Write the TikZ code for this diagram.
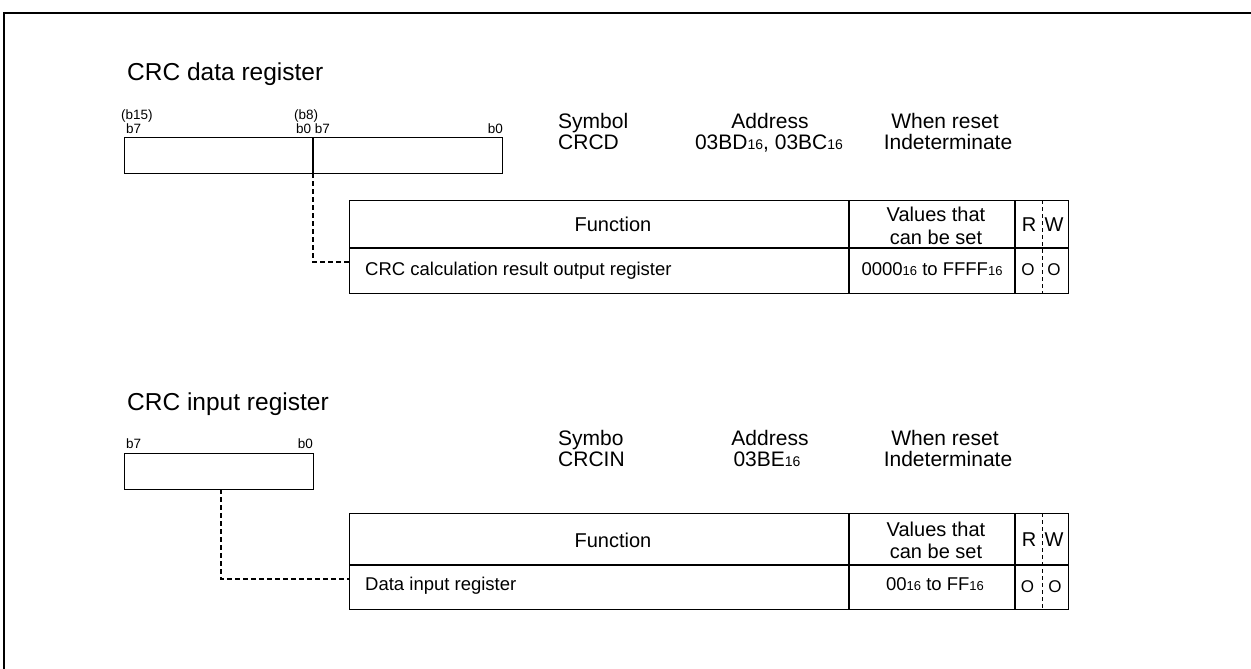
\documentclass[tikz,border=0pt]{standalone}
\usepackage{fontspec}
\setmainfont{Liberation Sans}
\newcommand\hsub[1]{{\fontsize{14}{14}\selectfont #1}}
\newcommand\tsub[1]{{\fontsize{13}{13}\selectfont #1}}
\tikzset{
  frame/.style={line width=2pt},
  regbox/.style={draw, line width=1.4pt, inner sep=0pt, anchor=north west},
  tblbox/.style={draw, line width=1.3pt, inner sep=0pt, anchor=north west},
  rule/.style={line width=1.3pt},
  rwsep/.style={line width=0.8pt, dash pattern=on 4pt off 3pt},
  conn/.style={line width=1.3pt, dash pattern=on 4.5pt off 3.5pt},
  title/.style={inner sep=0pt, font=\fontsize{24.5}{28}\selectfont},
  head/.style={inner sep=0pt, font=\fontsize{21}{24}\selectfont},
  bit/.style={inner sep=0pt, font=\fontsize{13.5}{15}\selectfont},
  cell/.style={inner sep=0pt, font=\fontsize{20}{23}\selectfont},
  row/.style={inner sep=0pt, font=\fontsize{18.5}{21}\selectfont},
  rwmark/.style={inner sep=0pt, font=\fontsize{17}{19}\selectfont},
}
\begin{document}
\begin{tikzpicture}[x=1pt,y=-1pt]
\useasboundingbox (0,0) rectangle (1251,669);
\draw[frame] (4,680) -- (4,13) -- (1262,13);

% ---------------- CRC data register ----------------
\node[title, anchor=base west] (t1) at (127,80.5) {CRC data register};

\node[bit, anchor=base west] (b15) at (121,119.5) {(b15)};
\node[bit, anchor=base west] (b7a) at (126,133.5) {b7};
\node[bit, anchor=base west] (b8) at (294,119.5) {(b8)};
\node[bit, anchor=base west] (b0b7) at (296,133.5) {b0 b7};
\node[bit, anchor=base east] (b0a) at (503,133.5) {b0};

\node[regbox, minimum width=378pt, minimum height=36pt] (crcd) at (124,137) {};
\draw[rule] (313,137) -- (313,173);

\node[head, anchor=base west] (sym1) at (558,128.5) {Symbol};
\node[head, anchor=base west] (sym1v) at (558,149.5) {CRCD};
\node[head, anchor=base] (adr1) at (770,128.5) {Address};
\node[head, anchor=base] (adr1v) at (769,149.5) {03BD\hsub{16}, 03BC\hsub{16}};
\node[head, anchor=base] (rst1) at (945,128.5) {When reset};
\node[head, anchor=base] (rst1v) at (948,149.5) {Indeterminate};

\node[tblbox, minimum width=719pt, minimum height=93pt] (tab1) at (349,200) {};
\draw[rule] (349,248) -- (1068,248);
\draw[rule] (849,200) -- (849,293);
\draw[rule] (1015,200) -- (1015,293);
\draw[rwsep] (1042,200) -- (1042,293);

\node[cell, anchor=base] (fn1) at (613,231) {Function};
\node[cell, anchor=base] (v1a) at (936,221) {Values that};
\node[cell, anchor=base] (v1b) at (936,244) {can be set};
\node[cell, anchor=base] (r1) at (1029,231) {R};
\node[cell, anchor=base] (w1) at (1054,231) {W};
\node[row, anchor=base west] (f1) at (365,275.5) {CRC calculation result output register};
\node[row, anchor=base] (val1) at (932,275.5) {0000\tsub{16} to FFFF\tsub{16}};
\node[rwmark, anchor=base] (o1r) at (1028,275) {O};
\node[rwmark, anchor=base] (o1w) at (1054,275) {O};

\coordinate (c1s) at (313,173);
\coordinate (c1e) at (349,262);
\draw[conn] (c1s) |- (c1e);

% ---------------- CRC input register ----------------
\node[title, anchor=base west] (t2) at (127,410.8) {CRC input register};

\node[bit, anchor=base west] (b7b) at (126,448.5) {b7};
\node[bit, anchor=base east] (b0b) at (313,448.5) {b0};

\node[regbox, minimum width=189pt, minimum height=36pt] (crcin) at (124,453) {};

\node[head, anchor=base west] (sym2) at (558,445.5) {Symbo};
\node[head, anchor=base west] (sym2v) at (558,466) {CRCIN};
\node[head, anchor=base] (adr2) at (770,445.5) {Address};
\node[head, anchor=base] (adr2v) at (767,466) {03BE\hsub{16}};
\node[head, anchor=base] (rst2) at (945,445.5) {When reset};
\node[head, anchor=base] (rst2v) at (948,466) {Indeterminate};

\node[tblbox, minimum width=719pt, minimum height=96pt] (tab2) at (349,513) {};
\draw[rule] (349,565) -- (1068,565);
\draw[rule] (849,513) -- (849,609);
\draw[rule] (1015,513) -- (1015,609);
\draw[rwsep] (1042,513) -- (1042,609);

\node[cell, anchor=base] (fn2) at (613,547) {Function};
\node[cell, anchor=base] (v2a) at (936,536) {Values that};
\node[cell, anchor=base] (v2b) at (936,558.5) {can be set};
\node[cell, anchor=base] (r2) at (1029,546) {R};
\node[cell, anchor=base] (w2) at (1054,546) {W};
\node[row, anchor=base west] (f2) at (365,590) {Data input register};
\node[row, anchor=base] (val2) at (935,590) {00\tsub{16} to FF\tsub{16}};
\node[rwmark, anchor=base] (o2r) at (1027.5,592) {O};
\node[rwmark, anchor=base] (o2w) at (1055,592) {O};

\coordinate (c2s) at (221,489);
\coordinate (c2e) at (349,579);
\draw[conn] (c2s) |- (c2e);
\end{tikzpicture}
\end{document}
